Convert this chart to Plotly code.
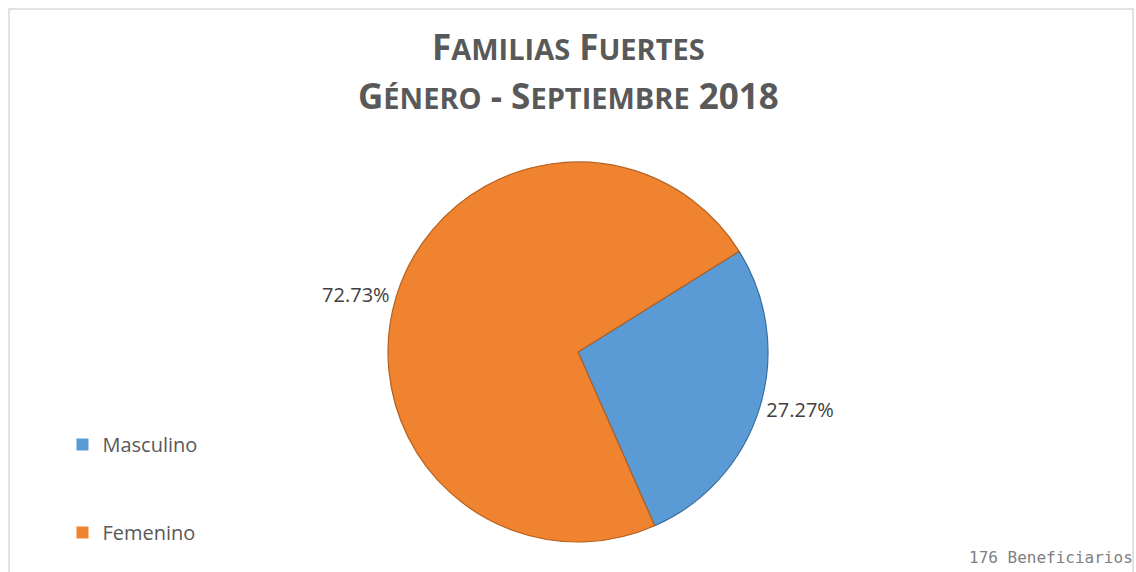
import plotly.graph_objects as go

labels = ["Masculino", "Femenino"]
values = [48, 128]
colors = ["#5B9BD5", "#F08330"]
edge_colors = ["#3A6E9E", "#B5601F"]
title_line1 = "FAMILIAS FUERTES"
title_line2 = "GÉNERO - SEPTIEMBRE 2018"
footer = "176 Beneficiarios"

W, H = 1136, 572
cx, cy, r = 578, 352, 190


def small_caps(text, big=35, small=29):
    out = []
    for word in text.split(" "):
        if not word:
            continue
        first, rest = word[0], word[1:]
        if rest and any(c.isalpha() for c in rest):
            out.append(f"<span style='font-size:{big}px'>{first}</span><span style='font-size:{small}px'>{rest}</span>")
        else:
            out.append(f"<span style='font-size:{big}px'>{word}</span>")
    return " ".join(out)


fig = go.Figure()
fig.add_trace(go.Pie(
    labels=labels,
    values=values,
    sort=False,
    direction="clockwise",
    rotation=58,
    marker=dict(colors=colors, line=dict(color=edge_colors, width=1.2)),
    textinfo="percent",
    texttemplate="%{percent:.2%}",
    textposition="outside",
    textfont=dict(family="Open Sans", size=20, color="#404040"),
    showlegend=False,
    domain=dict(x=[(cx - r) / W, (cx + r) / W], y=[(H - cy - r) / H, (H - cy + r) / H]),
))

for lab, col in zip(labels, colors):
    fig.add_trace(go.Scatter(
        x=[None], y=[None], mode="markers", name=lab, legendgroup=lab,
        marker=dict(symbol="square", size=12, color=col),
    ))

fig.update_layout(
    width=W, height=H,
    margin=dict(l=0, r=0, t=0, b=0),
    paper_bgcolor="white", plot_bgcolor="white",
    xaxis=dict(visible=False), yaxis=dict(visible=False),
    legend=dict(x=0.055, y=1 - 425 / H, xanchor="left", yanchor="top",
                font=dict(family="Open Sans", size=20, color="#595959"),
                tracegroupgap=59, itemwidth=30),
    annotations=[
        dict(text=small_caps(title_line1), x=0.5, y=1 - 46 / H, xref="paper", yref="paper",
             yanchor="middle", showarrow=False,
             font=dict(family="Open Sans", size=35, color="#595959", weight="bold")),
        dict(text=small_caps(title_line2), x=0.5, y=1 - 96 / H, xref="paper", yref="paper",
             yanchor="middle", showarrow=False,
             font=dict(family="Open Sans", size=35, color="#595959", weight="bold")),
        dict(text=footer, x=1135 / W, y=1 - 557 / H, xref="paper", yref="paper",
             xanchor="right", yanchor="middle", showarrow=False,
             font=dict(family="DejaVu Sans Mono", size=16, color="#7F7F7F")),
    ],
    shapes=[dict(type="rect", xref="paper", yref="paper", x0=9 / W, x1=1133 / W, y0=-0.01, y1=1 - 9 / H,
                 line=dict(color="#D9D9D9", width=1.5))],
)

fig.write_html("out.html", config={"displayModeBar": False},
               post_script="document.body.style.margin='0';")
